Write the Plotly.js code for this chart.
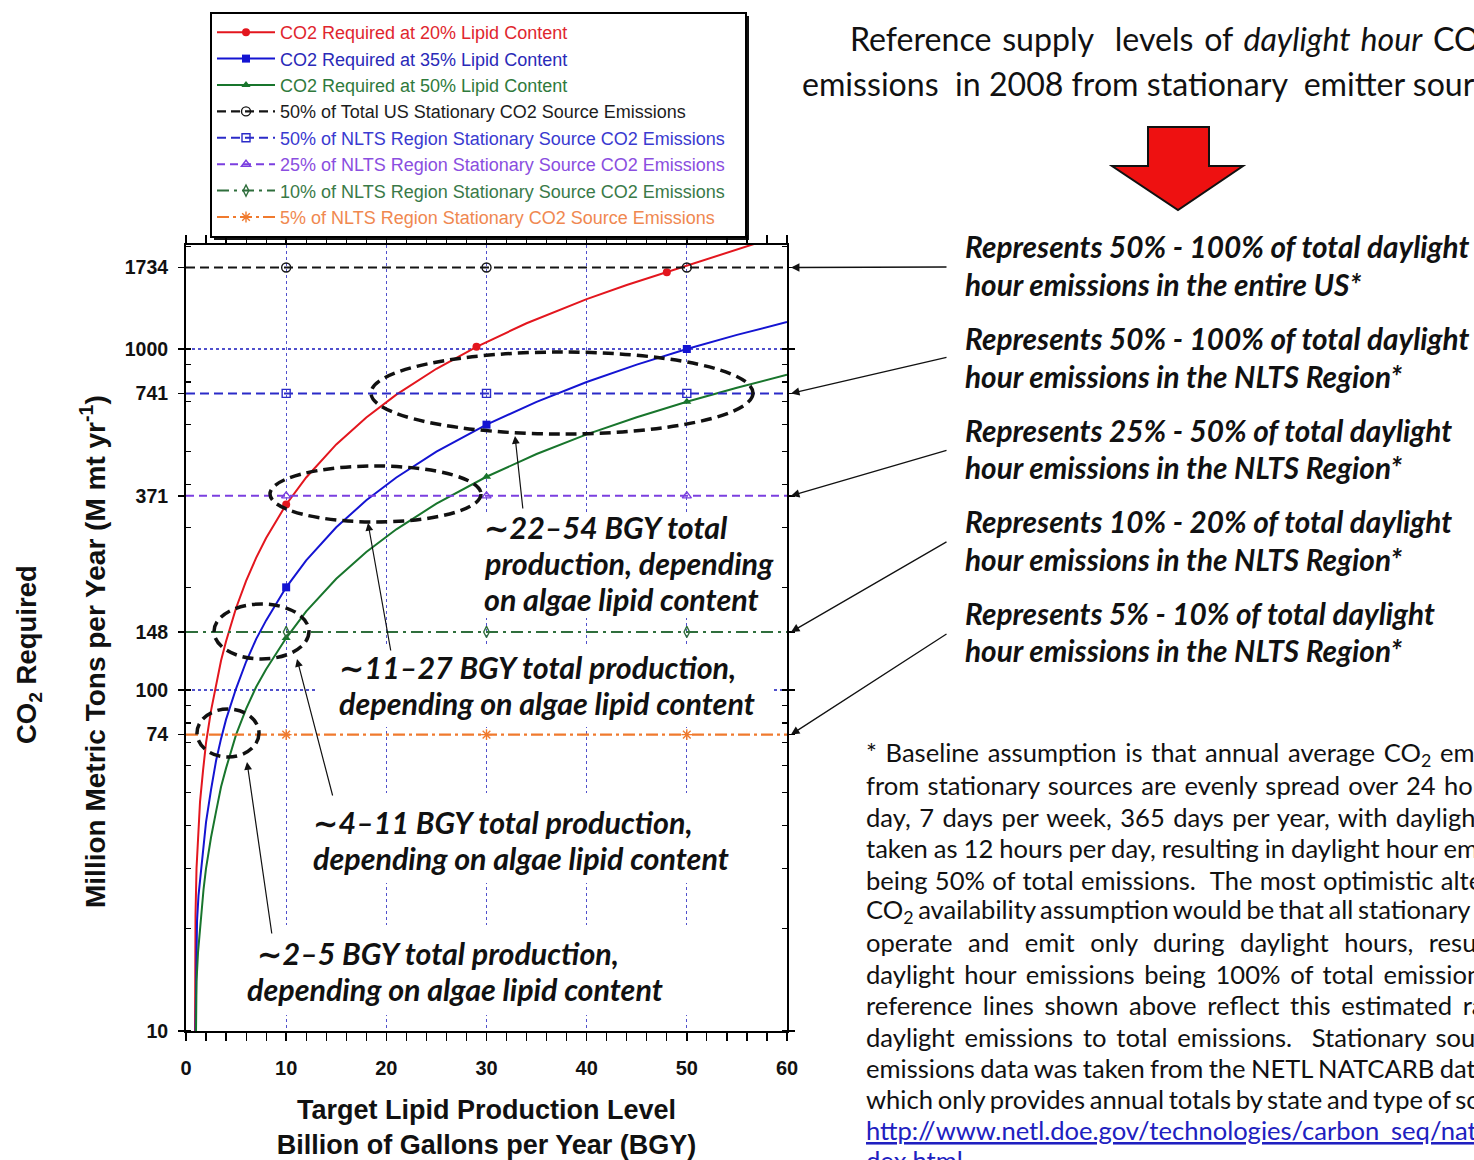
<!DOCTYPE html>
<html>
<head>
<meta charset="utf-8">
<script src="https://cdn.plot.ly/plotly-3.0.1.min.js"></script>
<style>html,body{margin:0;padding:0;background:#fff}#chart{width:1474px;height:1160px}</style>
</head>
<body>
<div id="chart"></div>
<script>
// ---------------- DATA ----------------
const productionTicks = [0, 10, 20, 30, 40, 50, 60];
const co2TickVals = [10, 74, 100, 148, 371, 741, 1000, 1734];
const co2GridVals = [100, 1000];

// CO2 required at 20% lipid content (M mt/yr) vs production (BGY)
const bgy20 = [0.9, 0.95, 1.05, 1.2, 1.4, 1.7, 2, 2.5, 3, 3.5, 4, 5, 6, 7, 8, 10, 12, 15, 18, 21, 25, 29, 34, 40, 44, 48, 52, 56, 58];
const co2At20 = [10, 22, 30, 38, 47, 58, 70, 87, 104, 122, 139, 174, 209, 244, 279, 350, 420, 525, 630, 735, 875, 1015, 1190, 1400, 1540, 1680, 1840, 2010, 2090];
const marks20 = [10, 29, 48];

// CO2 required at 35% lipid content
const bgy35 = [0.95, 1.0, 1.1, 1.25, 1.5, 1.75, 2, 2.5, 3, 3.5, 4, 5, 6, 7, 8, 10, 12, 15, 18, 21, 25, 30, 35, 40, 45, 50, 55, 60];
const co2At35 = [10, 16, 21, 25, 30, 35, 41, 51, 62, 72, 82, 101, 121, 141, 160, 200, 240, 300, 360, 420, 500, 600, 700, 800, 900, 1000, 1100, 1200];
const marks35 = [10, 30, 50];

// CO2 required at 50% lipid content
const bgy50 = [1.0, 1.05, 1.2, 1.5, 1.75, 2, 2.5, 3, 3.5, 4, 5, 6, 7, 8, 10, 12, 15, 18, 21, 25, 30, 35, 40, 45, 50, 55, 60];
const co2At50 = [10, 14, 17, 22, 26, 30, 37, 44, 52, 59, 74, 88, 102, 115, 142, 170, 212, 254, 296, 352, 422, 492, 562, 631, 700, 770, 840];
const marks50 = [10, 30, 50];

const seriesNames = ['CO2 Required at 20% Lipid Content', 'CO2 Required at 35% Lipid Content', 'CO2 Required at 50% Lipid Content'];

// Reference supply levels (M mt/yr)
const refNames = [
  '50% of Total US Stationary CO2 Source Emissions',
  '50% of NLTS Region Stationary Source CO2 Emissions',
  '25% of NLTS Region Stationary Source CO2 Emissions',
  '10% of NLTS Region Stationary Source CO2 Emissions',
  '5% of NLTS Region Stationary CO2 Source Emissions'
];
const refLevels = [1734, 741, 371, 148, 74];
const refX = [0, 10, 30, 50, 60];
const refMarks = [10, 30, 50];

// ---------------- LAYOUT HELPERS ----------------
const W = 1474, H = 1160;
const PL = 186, PR = 787, PT = 245, PB = 1031;
const X_RANGE = [0, 60];
const Y_RANGE = [1, 3.305];
const fx = px => (px - PL) / (PR - PL);
const fy = py => (PB - py) / (PB - PT);
const dxv = px => X_RANGE[0] + fx(px) * (X_RANGE[1] - X_RANGE[0]);
const dyv = py => Math.pow(10, Y_RANGE[0] + fy(py) * (Y_RANGE[1] - Y_RANGE[0]));
const levelPx = v => PB - (Math.log10(v) - Y_RANGE[0]) / (Y_RANGE[1] - Y_RANGE[0]) * (PB - PT);

const CAL = 'Lato, "Open Sans", "DejaVu Sans", sans-serif';
const ARIAL = '"Liberation Sans", Arial, sans-serif';

const ctx = document.createElement('canvas').getContext('2d');
function measure(s, weight, style, size, family) {
  ctx.font = style + ' ' + weight + ' ' + size + 'px ' + family;
  return ctx.measureText(s).width;
}
function fitSize(sample, targetW, weight, style, family) {
  return 40 * targetW / measure(sample, weight, style, 40, family);
}

const sizeSide = fitSize('Represents 50% - 100% of total daylight', 505, 'bold', 'italic', CAL);
const sizeNote = fitSize('depending on algae lipid content', 416, 'bold', 'italic', CAL);
const sizeFoot = fitSize('http://www.netl.doe.gov/technologies/carbon_seq/na', 602, 'normal', 'normal', CAL);
const sizeHead = fitSize('emissions  in 2008 from stationary  emitter sour', 674, 'normal', 'normal', CAL);

// ---------------- TRACES ----------------
const PAD = '\u00a0\u00a0\u00a0';
const seriesStyle = [
  {color: '#e3161e', legend: '#e0262e', symbol: 'circle', size: 8},
  {color: '#1414d2', legend: '#2a2ab8', symbol: 'square', size: 8},
  {color: '#18752c', legend: '#2f7a3c', symbol: 'triangle-up', size: 8}
];
const seriesData = [[bgy20, co2At20, marks20], [bgy35, co2At35, marks35], [bgy50, co2At50, marks50]];

const traces = [];
seriesData.forEach((s, i) => {
  const st = seriesStyle[i];
  traces.push({
    type: 'scatter', mode: 'lines+markers', x: s[0], y: s[1],
    name: '<span style="color:' + st.legend + '">' + seriesNames[i] + PAD + '</span>',
    line: {color: st.color, width: 2},
    marker: {symbol: st.symbol, size: st.size, color: st.color},
    selectedpoints: s[2].map(m => s[0].indexOf(m)),
    selected: {marker: {opacity: 1}},
    unselected: {marker: {opacity: 0}},
    hoverinfo: 'skip'
  });
});

const refStyle = [
  {color: '#141414', legend: '#1c1c1c', dash: '9px,5px', symbol: 'circle-open', size: 9, width: 2.2},
  {color: '#2b2bc8', legend: '#3a3ad0', dash: '9px,5px', symbol: 'square-open', size: 8, width: 2},
  {color: '#7b3fe0', legend: '#8a4ee0', dash: '8px,5px', symbol: 'triangle-up-open', size: 8, width: 2},
  {color: '#2f6e3c', legend: '#3a7a48', dash: '12px,5px,3px,5px', symbol: 'diamond-tall-open', size: 8, width: 2},
  {color: '#f07a2e', legend: '#f08850', dash: '12px,4px,3px,4px', symbol: 'asterisk-open', size: 9, width: 2.2}
];
refLevels.forEach((lvl, i) => {
  const st = refStyle[i];
  traces.push({
    type: 'scatter', mode: 'lines+markers', x: refX, y: refX.map(() => lvl),
    yaxis: i === 0 ? 'y2' : 'y',
    name: '<span style="color:' + st.legend + '">' + refNames[i] + PAD + '</span>',
    line: {color: st.color, width: st.width, dash: st.dash},
    marker: {symbol: st.symbol, size: st.size, color: st.color, line: {color: st.color, width: 1.4}},
    selectedpoints: refMarks.map(m => refX.indexOf(m)),
    selected: {marker: {opacity: 1}},
    unselected: {marker: {opacity: 0}},
    hoverinfo: 'skip'
  });
});

// ---------------- ANNOTATIONS ----------------
const annotations = [];
function txt(px, py, text, size, opts) {
  const a = {xref: 'paper', yref: 'paper', x: fx(px), y: fy(py), xanchor: 'left', yanchor: 'middle',
    text: text, showarrow: false, font: {family: CAL, size: size, color: '#111'}};
  return Object.assign(a, opts || {});
}

// Y axis titles (rotated)
annotations.push(txt(28, 655, 'CO<sub>2</sub> Required', 27, {xanchor: 'center', textangle: -90,
  font: {family: ARIAL, size: 27.5, weight: 'bold', color: '#111'}}));
annotations.push(txt(93, 652, 'Million Metric Tons per Year (M mt yr<sup>-1</sup>)', 28, {xanchor: 'center', textangle: -90,
  font: {family: ARIAL, size: 28, weight: 'bold', color: '#111'}}));

// header on the right
annotations.push(txt(848, 41, '<span style="word-spacing:2.5px">Reference supply  levels of <i>daylight hour</i> CO<sub>2</sub> emissions</span>', sizeHead));
annotations.push(txt(800, 83, 'emissions  in 2008 from stationary  emitter sources', sizeHead));

// side notes
const sideNotes = [
  ['Represents 50% - 100% of total daylight', 'hour emissions in the entire US*', 247, 284],
  ['Represents 50% - 100% of total daylight', 'hour emissions in the NLTS Region*', 338, 376],
  ['Represents 25% - 50% of total daylight', 'hour emissions in the NLTS Region*', 430, 467],
  ['Represents 10% - 20% of total daylight', 'hour emissions in the NLTS Region*', 521, 559],
  ['Represents 5% - 10% of total daylight', 'hour emissions in the NLTS Region*', 613, 650]
];
const sideFont = {family: CAL, size: sizeSide, weight: 'bold', style: 'italic', color: '#111'};
sideNotes.forEach(n => {
  annotations.push(txt(963, n[2], n[0], sizeSide, {font: sideFont}));
  annotations.push(txt(963, n[3], n[1], sizeSide, {font: sideFont}));
});

// arrows from side notes to reference levels
const refArrowTailY = [267, 357, 450, 541, 633];
refLevels.forEach((lvl, i) => {
  annotations.push({xref: 'paper', yref: 'y', x: fx(791), y: Math.log10(lvl),
    axref: 'pixel', ayref: 'pixel', ax: 948 - 791, ay: refArrowTailY[i] - levelPx(lvl),
    text: '', showarrow: true, arrowhead: 2, arrowsize: 1.3, arrowwidth: 1.3, arrowcolor: '#111', standoff: 0, startstandoff: 0});
});

// in-plot notes
const noteFont = {family: CAL, size: sizeNote, weight: 'bold', style: 'italic', color: '#111'};
const plotNotes = [
  [482, 527, '\u223C22\u201354 BGY total'],
  [482, 563, 'production, depending'],
  [482, 599, 'on algae lipid content'],
  [337, 667, '\u223C11\u201327 BGY total production,'],
  [337, 703, 'depending on algae lipid content'],
  [311, 822, '\u223C4\u201311 BGY total production,'],
  [311, 858, 'depending on algae lipid content'],
  [255, 953, '\u223C2\u20135 BGY total production,'],
  [245, 989, 'depending on algae lipid content']
];
plotNotes.forEach(n => annotations.push(txt(n[0], n[1], n[2], sizeNote, {font: noteFont})));

// arrows from notes to ellipses [headX, headY, tailX, tailY]
const ellipseArrows = [[515, 436, 523, 510], [368, 523, 391, 652], [297, 659, 333, 797], [247, 762, 272, 935]];
ellipseArrows.forEach(a => {
  annotations.push({xref: 'paper', yref: 'paper', x: fx(a[0]), y: fy(a[1]), axref: 'pixel', ayref: 'pixel',
    ax: a[2] - a[0], ay: a[3] - a[1], text: '', showarrow: true, arrowhead: 2, arrowsize: 1.3, arrowwidth: 1.2,
    arrowcolor: '#111', standoff: 0, startstandoff: 0});
});

// footnote (justified lines)
const FOOT_LEFT = 864;
const footnote = [
  ['* Baseline assumption is that annual average CO<sub>2</sub> emissions', '* Baseline assumption is that annual average CO2 e', 1456, 754],
  ['from stationary sources are evenly spread over 24 hours per', 'from stationary sources are evenly spread over 24 h', 1458, 785],
  ['day, 7 days per week, 365 days per year, with daylight hours', 'day, 7 days per week, 365 days per year, with daylig', 1462, 817],
  ['taken as 12 hours per day, resulting in daylight hour emissions', 'taken as 12 hours per day, resulting in daylight hour e', 1456, 848],
  ['being 50% of total emissions.  The most optimistic alternative', 'being 50% of total emissions.  The most optimistic alt', 1468, 880],
  ['CO<sub>2</sub> availability assumption would be that all stationary sources', 'CO2 availability assumption would be that all stationary', 1474, 911],
  ['operate and emit only during daylight hours, resulting in', 'operate and emit only during daylight hours, resu', 1475, 942],
  ['daylight hour emissions being 100% of total emissions.  The', 'daylight hour emissions being 100% of total emissio', 1466, 974],
  ['reference lines shown above reflect this estimated range of', 'reference lines shown above reflect this estimated r', 1470, 1005],
  ['daylight emissions to total emissions.  Stationary source', 'daylight emissions to total emissions.  Stationary sou', 1474, 1037],
  ['emissions data was taken from the NETL NATCARB database,', 'emissions data was taken from the NETL NATCARB da', 1466, 1068],
  ['which only provides annual totals by state and type of source.', 'which only provides annual totals by state and type of s', 1466, 1099]
];
footnote.forEach(f => {
  const spaces = (f[1].match(/ /g) || []).length;
  const natural = measure(f[1], 'normal', 'normal', sizeFoot, CAL);
  const ws = spaces ? (f[2] - FOOT_LEFT - natural) / spaces : 0;
  annotations.push(txt(FOOT_LEFT, f[3], '<span style="word-spacing:' + ws.toFixed(2) + 'px">' + f[0] + '</span>', sizeFoot));
});
annotations.push(txt(FOOT_LEFT, 1130, '<u>http://www.netl.doe.gov/technologies/carbon_seq/natcarb/in</u>', sizeFoot,
  {font: {family: CAL, size: sizeFoot, color: '#2020c0'}}));
annotations.push(txt(FOOT_LEFT, 1160, '<u>dex.html</u>', sizeFoot, {font: {family: CAL, size: sizeFoot, color: '#2020c0'}}));

// ---------------- SHAPES ----------------
const LEG_LEFT = 210, LEG_TOP = 12, SHADOW = 4;
const shapes = [];
// legend drop shadow (resized to the legend after drawing)
shapes.push({type: 'rect', xref: 'paper', yref: 'paper', x0: fx(LEG_LEFT + SHADOW), x1: fx(750), y0: fy(236), y1: fy(LEG_TOP + SHADOW),
  fillcolor: '#111', line: {width: 0}, layer: 'below'});
// white text-box backgrounds hiding the grid
const maskBoxes = [[478, 512, 785, 618], [318, 645, 774, 727], [300, 793, 740, 883], [280, 925, 740, 1015]];
maskBoxes.forEach(b => shapes.push({type: 'rect', xref: 'x', yref: 'y', x0: dxv(b[0]), x1: dxv(b[2]),
  y0: dyv(b[3]), y1: dyv(b[1]), fillcolor: '#ffffff', line: {width: 0}, layer: 'between'}));
// dashed ellipses
const ellipses = [[371, 352, 753, 434], [270, 466, 481, 522], [214, 604, 309, 659], [197, 709, 259, 757]];
ellipses.forEach(e => shapes.push({type: 'circle', xref: 'paper', yref: 'paper', x0: fx(e[0]), x1: fx(e[2]),
  y0: fy(e[3]), y1: fy(e[1]), line: {color: '#111', width: 3.5, dash: '11px,6px'}, layer: 'above'}));
// big red arrow
const redArrow = [[1148, 127], [1209, 127], [1209, 166], [1243, 166], [1178, 210], [1112, 166], [1148, 166]];
shapes.push({type: 'path', xref: 'paper', yref: 'paper',
  path: 'M' + redArrow.map(p => fx(p[0]).toFixed(5) + ',' + fy(p[1]).toFixed(5)).join('L') + 'Z',
  fillcolor: '#ee1111', line: {color: '#111', width: 2}, layer: 'above'});

// ---------------- LAYOUT ----------------
const gridColor = '#5050cc';
const layout = {
  width: W, height: H,
  margin: {l: PL, r: W - PR, t: PT, b: H - PB, autoexpand: false},
  paper_bgcolor: '#ffffff', plot_bgcolor: '#ffffff',
  font: {family: ARIAL, color: '#111'},
  showlegend: true,
  legend: {x: fx(LEG_LEFT), y: fy(LEG_TOP), xanchor: 'left', yanchor: 'top', bgcolor: '#ffffff',
    bordercolor: '#000', borderwidth: 2, font: {family: ARIAL, size: 18}, itemwidth: 58,
    traceorder: 'normal', tracegroupgap: 0},
  xaxis: {range: X_RANGE, tickmode: 'array', tickvals: productionTicks, ticktext: productionTicks.map(String),
    ticks: 'outside', ticklen: 8, tickwidth: 1.5, tickcolor: '#000',
    showline: true, linewidth: 2, linecolor: '#000', mirror: 'allticks', zeroline: false,
    showgrid: true, gridcolor: gridColor, griddash: 'dot', gridwidth: 1.3,
    tickfont: {family: ARIAL, size: 20, weight: 'bold', color: '#111'}, ticklabelstandoff: 10,
    minor: {dtick: 2, ticks: 'outside', ticklen: 8, tickwidth: 1.2, tickcolor: '#000', showgrid: false},
    title: {text: 'Target Lipid Production Level<br>Billion of Gallons per Year (BGY)',
      font: {family: ARIAL, size: 27, weight: 'bold', color: '#111'}, standoff: 28},
    fixedrange: true},
  yaxis: {type: 'log', range: Y_RANGE, tickmode: 'array', tickvals: co2TickVals, ticktext: co2TickVals.map(String),
    ticks: 'outside', ticklen: 6, tickwidth: 1.5, tickcolor: '#000',
    showline: true, linewidth: 2, linecolor: '#000', mirror: 'allticks', zeroline: false, showgrid: false,
    tickfont: {family: ARIAL, size: 19.5, weight: 'bold', color: '#111'}, ticklabelstandoff: 6,
    minor: {dtick: 'D1', ticks: 'inside', ticklen: 5, tickwidth: 1.2, tickcolor: '#000', showgrid: false},
    fixedrange: true},
  yaxis2: {type: 'log', range: Y_RANGE, overlaying: 'y', anchor: 'x', side: 'left',
    tickmode: 'array', tickvals: co2GridVals, showticklabels: false, ticks: '',
    showgrid: true, gridcolor: gridColor, griddash: 'dot', gridwidth: 1.3, showline: false, zeroline: false,
    fixedrange: true},
  annotations: annotations,
  shapes: shapes
};

Plotly.newPlot('chart', traces, layout, {staticPlot: true, displayModeBar: false}).then(gd => {
  const bg = gd.querySelector('g.legend rect.bg');
  if (!bg) return;
  const w = parseFloat(bg.getAttribute('width')), h = parseFloat(bg.getAttribute('height'));
  if (!(w > 0 && h > 0)) return;
  return Plotly.relayout(gd, {
    'shapes[0].x0': fx(LEG_LEFT + SHADOW), 'shapes[0].x1': fx(LEG_LEFT + w + SHADOW),
    'shapes[0].y0': fy(LEG_TOP + h + SHADOW), 'shapes[0].y1': fy(LEG_TOP + SHADOW)
  });
});
</script>
</body>
</html>
